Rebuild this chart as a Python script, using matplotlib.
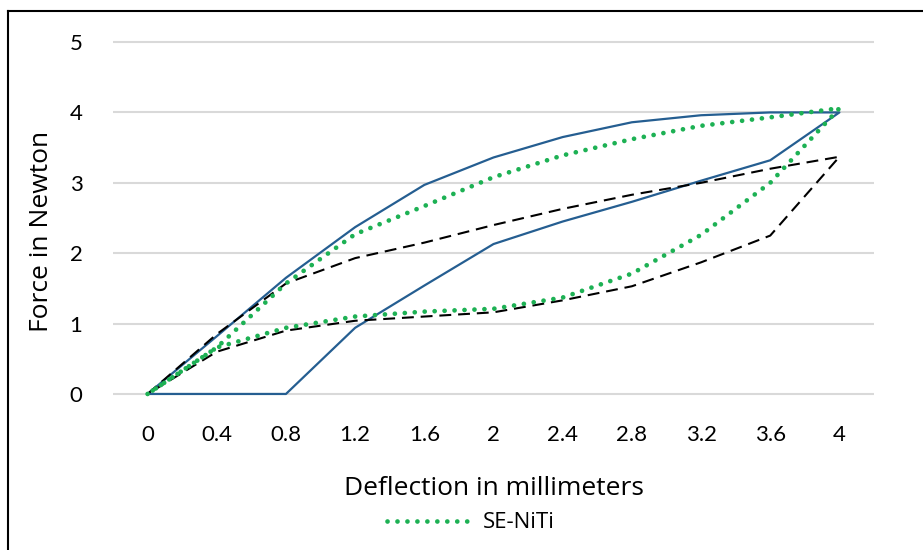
import matplotlib
matplotlib.use('Agg')
import matplotlib.pyplot as plt
from matplotlib.lines import Line2D

plt.rcParams['font.family'] = ['Lato', 'DejaVu Sans']

# deflection steps, loading then unloading
x_up = [0, 0.4, 0.8, 1.2, 1.6, 2.0, 2.4, 2.8, 3.2, 3.6, 4.0]
x_down = [4.0, 3.6, 3.2, 2.8, 2.4, 2.0, 1.6, 1.2, 0.8, 0.4, 0]

solid_up = [0, 0.82, 1.65, 2.37, 2.97, 3.36, 3.65, 3.86, 3.96, 4.0, 4.0]
solid_down = [4.0, 3.32, 3.03, 2.73, 2.45, 2.13, 1.54, 0.94, 0, 0, 0]
dashed_up = [0, 0.85, 1.57, 1.93, 2.15, 2.4, 2.63, 2.83, 3.0, 3.2, 3.37]
dashed_down = [3.37, 2.25, 1.87, 1.53, 1.33, 1.16, 1.1, 1.04, 0.9, 0.6, 0]
niti_up = [0, 0.66, 1.57, 2.27, 2.67, 3.08, 3.39, 3.62, 3.81, 3.93, 4.06]
niti_down = [4.06, 3.0, 2.26, 1.71, 1.37, 1.21, 1.17, 1.1, 0.94, 0.66, 0]

x_ticks = [0, 0.4, 0.8, 1.2, 1.6, 2, 2.4, 2.8, 3.2, 3.6, 4]
x_ticklabels = ['0', '0.4', '0.8', '1.2', '1.6', '2', '2.4', '2.8', '3.2', '3.6', '4']
y_ticks = [0, 1, 2, 3, 4, 5]

W, H = 923, 550
fig = plt.figure(figsize=(W / 100, H / 100), dpi=100)
ax = fig.add_axes([113 / W, 149 / H, 761 / W, 366 / H])

xs = x_up + x_down[1:]
ax.plot(xs, solid_up + solid_down[1:], color='#255E91', lw=1.6)
ax.plot(xs, dashed_up + dashed_down[1:], color='black', lw=1.5, ls=(0, (5.7, 3.3)))
ax.plot(xs, niti_up + niti_down[1:], color='#1DB154', lw=3.4,
        ls=(0, (0.01, 2.1)), dash_capstyle='round', label='SE-NiTi')

ax.set_xlim(-0.2, 4.2)
ax.set_ylim(-0.1, 5.1)
ax.set_xticks(x_ticks)
ax.set_xticklabels(x_ticklabels)
ax.set_yticks(y_ticks)
ax.tick_params(length=0, labelsize=16)
ax.tick_params(axis='x', pad=17)
ax.tick_params(axis='y', pad=22)
ax.grid(axis='y', color='#D9D9D9', lw=1.5)
ax.set_axisbelow(True)
for s in ax.spines.values():
    s.set_visible(False)

title_font = ['Open Sans', 'DejaVu Sans']
ax.set_xlabel('Deflection in millimeters', fontsize=19, va='center', family=title_font)
ax.xaxis.set_label_coords(0.5, -0.238)
ax.set_ylabel('Force in Newton', fontsize=19, va='center', family=title_font)
ax.yaxis.set_label_coords(-0.094, 0.462)

fig.legend(loc='center', bbox_to_anchor=(471 / W, 1 - 523 / H), frameon=False,
           prop={'family': title_font, 'size': 16}, handlelength=4, handletextpad=0.3)

# chart frame (only top and left are inside the picture)
fig.add_artist(Line2D([8 / W, 1], [1 - 11 / H, 1 - 11 / H], transform=fig.transFigure, color='black', lw=1.5))
fig.add_artist(Line2D([8 / W, 8 / W], [0, 1 - 11 / H], transform=fig.transFigure, color='black', lw=1.5))

fig.savefig('out.png', dpi=100)
